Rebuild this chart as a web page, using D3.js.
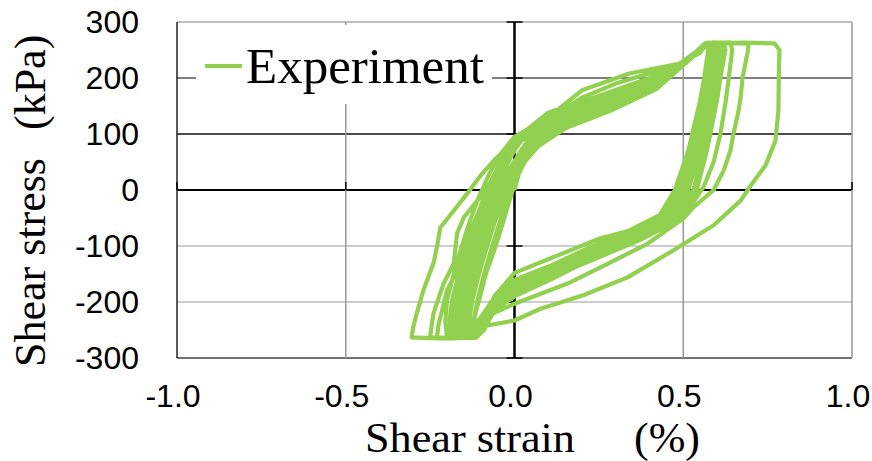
<!DOCTYPE html>
<html>
<head>
<meta charset="utf-8">
<script src="https://cdn.jsdelivr.net/npm/d3@7"></script>
<style>
    body { margin: 0; background: #fff; }
    svg { display: block; }
</style>
</head>
<body>
<svg id="chart" width="872" height="461"></svg>
<script>
// tick values for both axes
const xTicks = [-1.0, -0.5, 0.0, 0.5, 1.0];
const yTicks = [-300, -200, -100, 0, 100, 200, 300];

// hysteresis record, [shear strain %, shear stress kPa]
const cycle1 = [[0,0],[0.02,45],[0.05,85],[0.09,125],[0.2,178],[0.34,208],[0.49,226],[0.55,245],[0.57,262],
    [0.68,263],[0.77,262],[0.785,250],[0.783,200],[0.782,142],[0.773,88],[0.744,44],[0.70,8],[0.67,-19],
    [0.59,-63],[0.47,-108],[0.335,-156],[0.204,-188],[0.077,-212],[0,-233],[-0.11,-245],[-0.145,-263],
    [-0.22,-265],[-0.305,-263],[-0.3,-245],[-0.293,-228],[-0.27,-179],[-0.24,-131],[-0.228,-96],[-0.22,-67],
    [-0.18,-37],[-0.145,-10],[-0.10,26],[-0.056,56],[-0.012,79],[0.047,106],[0.136,140],[0.2,165],[0.3,190],
    [0.42,212],[0.5,228],[0.555,250],[0.575,262]];
const cycle2 = [[0.69,262],[0.693,255],[0.69,244],[0.676,201],[0.67,165],[0.664,142],[0.649,101],[0.64,71],
    [0.62,35],[0.59,0],[0.53,-31],[0.50,-51],[0.394,-96],[0.255,-138],[0.157,-167],[0,-203],[-0.08,-225],
    [-0.12,-250],[-0.14,-263],[-0.2,-265],[-0.25,-263],[-0.245,-240],[-0.24,-220],[-0.21,-167],[-0.18,-131],
    [-0.17,-77],[-0.15,-49],[-0.11,-19],[-0.08,4],[-0.05,40],[-0.02,70],[0.03,100],[0.107,128],[0.255,160],
    [0.4,195],[0.49,224],[0.55,250],[0.575,262]];
const cycle3 = [[0.64,263],[0.645,250],[0.635,201],[0.625,155],[0.61,100],[0.59,50],[0.56,5],[0.52,-30],
    [0.46,-62],[0.37,-90],[0.25,-120],[0.11,-155],[0,-185],[-0.08,-215],[-0.12,-245],[-0.14,-263],[-0.18,-265],
    [-0.23,-263],[-0.225,-240],[-0.2,-179],[-0.18,-156],[-0.13,-72],[-0.1,-30],[-0.07,5],[-0.03,50],[0.02,88],
    [0.1,122],[0.25,158],[0.4,192],[0.49,222],[0.55,248],[0.57,262]];
const cycle4 = [[0.62,263],[0.625,250],[0.61,200],[0.6,160],[0.57,70],[0.54,0],[0.49,-45],[0.4,-80],[0.26,-110],
    [0.11,-150],[0,-178],[-0.08,-212],[-0.13,-250],[-0.16,-264],[-0.2,-263],[-0.205,-235],[-0.2,-197],
    [-0.18,-150],[-0.16,-108],[-0.135,-60],[-0.11,-19],[-0.08,22],[-0.05,58],[0,95],[0.1,130],[0.25,163],
    [0.4,196],[0.49,224],[0.54,246],[0.565,262]];
const cycle5 = [[0.61,263],[0.612,248],[0.6,200],[0.59,160],[0.56,70],[0.53,0],[0.48,-45],[0.39,-78],[0.26,-104],
    [0.11,-145],[0,-173],[-0.08,-210],[-0.125,-250],[-0.15,-264],[-0.19,-264],[-0.192,-232],[-0.185,-197],
    [-0.165,-150],[-0.145,-108],[-0.12,-62],[-0.095,-20],[-0.065,20],[-0.04,55],[0.01,92],[0.1,127],[0.25,160],
    [0.4,193],[0.49,223],[0.54,246],[0.565,262]];
const cycle6 = [[0.60,263],[0.603,250],[0.59,200],[0.58,160],[0.55,70],[0.515,0],[0.47,-45],[0.38,-76],[0.26,-100],
    [0.11,-142],[0,-170],[-0.075,-207],[-0.12,-250],[-0.145,-264],[-0.18,-264],[-0.182,-230],[-0.175,-197],
    [-0.155,-150],[-0.135,-108],[-0.11,-60],[-0.085,-19],[-0.058,20],[-0.03,54],[0.01,95],[0.1,138],[0.25,168],
    [0.4,198],[0.49,224],[0.54,246],[0.565,262]];
const cycle7 = [[0.595,263],[0.597,250],[0.585,200],[0.575,160],[0.54,70],[0.505,0],[0.46,-45],[0.37,-75],
    [0.255,-98],[0.107,-139],[0,-166],[-0.07,-205],[-0.115,-250],[-0.14,-264],[-0.17,-264],[-0.172,-230],
    [-0.165,-197],[-0.145,-150],[-0.125,-108],[-0.1,-60],[-0.075,-19],[-0.05,20],[-0.022,53],[0.02,88],
    [0.107,122],[0.255,155],[0.4,190],[0.49,222],[0.54,245],[0.565,262]];
const cycle8 = [[0.59,263],[0.592,250],[0.58,200],[0.57,160],[0.535,70],[0.5,0],[0.45,-45],[0.365,-73],
    [0.255,-96],[0.107,-136],[0,-162],[-0.065,-202],[-0.11,-250],[-0.135,-264],[-0.16,-264],[-0.162,-228],
    [-0.155,-197],[-0.135,-150],[-0.115,-108],[-0.09,-60],[-0.065,-19],[-0.04,20],[-0.012,58],[0.03,100],
    [0.11,140],[0.26,170],[0.4,200],[0.49,225],[0.54,246],[0.565,262]];
const cycle9 = [[0.585,263],[0.587,250],[0.575,200],[0.565,160],[0.53,70],[0.495,0],[0.445,-45],[0.36,-78],
    [0.255,-115],[0.107,-160],[0,-190],[-0.06,-215],[-0.105,-250],[-0.13,-264],[-0.15,-264],[-0.152,-228],
    [-0.145,-197],[-0.125,-150],[-0.105,-108],[-0.08,-60],[-0.055,-19],[-0.03,20],[-0.002,50],[0.04,84],
    [0.12,117],[0.26,150],[0.4,185],[0.49,220],[0.54,245],[0.565,262]];
const cycle10 = [[0.58,263],[0.582,250],[0.57,200],[0.56,160],[0.525,70],[0.488,0],[0.44,-45],[0.355,-75],
    [0.255,-105],[0.107,-150],[0,-185],[-0.055,-212],[-0.1,-250],[-0.125,-264],[-0.14,-264],[-0.142,-226],
    [-0.135,-197],[-0.115,-150],[-0.095,-108],[-0.07,-60],[-0.045,-19],[-0.02,20],[0.008,50],[0.05,82],
    [0.13,115],[0.27,148],[0.41,184],[0.49,219],[0.54,245],[0.565,262]];
const cycle11 = [[0.575,263],[0.577,250],[0.565,200],[0.555,160],[0.52,70],[0.482,0],[0.435,-45],[0.35,-75],
    [0.255,-110],[0.107,-155],[0,-188],[-0.05,-208],[-0.095,-250],[-0.12,-264],[-0.13,-264],[-0.132,-225],
    [-0.125,-197],[-0.105,-150],[-0.085,-108],[-0.06,-60],[-0.035,-19],[-0.01,20],[0.018,50],[0.06,80],
    [0.14,113],[0.28,146],[0.41,182],[0.49,218],[0.54,245],[0.565,262]];
const cycle12 = [[0.572,263],[0.574,250],[0.562,200],[0.55,160],[0.515,70],[0.475,0],[0.43,-45],[0.34,-72],
    [0.25,-95],[0.107,-135],[0,-162],[-0.05,-200],[-0.09,-250],[-0.115,-264],[-0.12,-264],[-0.118,-225],
    [-0.105,-197],[-0.085,-150],[-0.06,-108],[-0.035,-60],[-0.015,-19],[0.005,20],[0.03,50],[0.07,78],
    [0.15,110],[0.29,143],[0.42,180],[0.49,217],[0.54,244],[0.565,262]];
const cycle13 = [[0.585,263],[0.587,250],[0.575,200],[0.56,160],[0.525,70],[0.49,0],[0.45,-40],[0.37,-68],
    [0.255,-86],[0.107,-122],[0,-148],[-0.06,-190],[-0.1,-250],[-0.13,-264],[-0.125,-264],[-0.12,-230],
    [-0.11,-197],[-0.09,-150],[-0.07,-108],[-0.045,-60],[-0.025,-19],[-0.005,20],[0.02,55],[0.06,85],
    [0.15,118],[0.3,152],[0.42,188],[0.49,220],[0.54,246],[0.565,262]];
const cycle14 = [[0.60,263],[0.602,250],[0.59,200],[0.578,160],[0.545,70],[0.51,0],[0.46,-50],[0.37,-85],
    [0.255,-112],[0.107,-152],[0,-182],[-0.07,-215],[-0.115,-252],[-0.14,-264],[-0.165,-264],[-0.168,-230],
    [-0.16,-197],[-0.14,-150],[-0.115,-108],[-0.09,-60],[-0.065,-19],[-0.04,25],[-0.015,60],[0.03,97],
    [0.12,132],[0.26,166],[0.4,200],[0.49,226],[0.54,248],[0.565,262]];
const cycle15 = [[0.61,263],[0.615,250],[0.605,200],[0.595,160],[0.565,70],[0.53,0],[0.485,-40],[0.4,-72],
    [0.27,-96],[0.12,-132],[0,-160],[-0.07,-200],[-0.12,-250],[-0.15,-264],[-0.175,-264],[-0.175,-230],
    [-0.165,-197],[-0.145,-150],[-0.12,-108],[-0.09,-62],[-0.06,-22],[-0.03,15],[0,50],[0.04,85],
    [0.12,118],[0.27,150],[0.41,186],[0.49,220],[0.54,246],[0.565,262]];
const cycle16 = [[0.58,263],[0.582,250],[0.57,200],[0.56,160],[0.52,70],[0.478,0],[0.43,-50],[0.34,-82],
    [0.25,-106],[0.107,-146],[0,-175],[-0.06,-210],[-0.1,-250],[-0.12,-264],[-0.14,-264],[-0.14,-226],
    [-0.13,-197],[-0.11,-150],[-0.09,-108],[-0.065,-60],[-0.04,-19],[-0.015,25],[0.01,62],[0.05,98],
    [0.14,130],[0.28,162],[0.41,196],[0.49,224],[0.54,247],[0.565,262],[0.575,263]];

const cycles = [cycle1, cycle2, cycle3, cycle4, cycle5, cycle6, cycle7, cycle8,
    cycle9, cycle10, cycle11, cycle12, cycle13, cycle14, cycle15, cycle16];

const green = '#92D050';

let svg = d3.select('#chart');

// plot area
let plotLeft = 177, plotRight = 852, plotTop = 22, plotBottom = 358;

let xScale = d3.scaleLinear().domain([-1, 1]).range([plotLeft, plotRight]);
let yScale = d3.scaleLinear().domain([-300, 300]).range([plotBottom, plotTop]);

// gridline colours, Excel style: darker near the top, light below zero
let hColor = {'-300': '#444', '-200': '#bbb', '-100': '#bbb', '0': '#000', '100': '#111', '200': '#555', '300': '#aaa'};
let vColor = {'-1': '#222', '-0.5': '#999', '0': '#000', '0.5': '#999', '1': '#999'};

let grid = svg.append('g').attr('class', 'grid');

grid.selectAll('line.h')
    .data(yTicks)
    .enter()
    .append('line')
    .attr('class', 'h')
    .attr('x1', plotLeft).attr('x2', plotRight)
    .attr('y1', d => yScale(d)).attr('y2', d => yScale(d))
    .attr('stroke', d => hColor[d])
    .attr('stroke-width', d => d === 0 ? 2 : 1.5);

grid.selectAll('line.v')
    .data(xTicks)
    .enter()
    .append('line')
    .attr('class', 'v')
    .attr('y1', plotTop).attr('y2', plotBottom)
    .attr('x1', d => xScale(d)).attr('x2', d => xScale(d))
    .attr('stroke', d => vColor[d])
    .attr('stroke-width', d => d === 0 ? 2.5 : 1.5);

// little cross ticks on the zero axes
grid.selectAll('line.yt')
    .data(yTicks)
    .enter()
    .append('line')
    .attr('class', 'yt')
    .attr('x1', xScale(0) - 8).attr('x2', xScale(0) + 8)
    .attr('y1', d => yScale(d)).attr('y2', d => yScale(d))
    .attr('stroke', '#000')
    .attr('stroke-width', 1.5);

grid.selectAll('line.xt')
    .data(xTicks)
    .enter()
    .append('line')
    .attr('class', 'xt')
    .attr('y1', yScale(0) - 8).attr('y2', yScale(0))
    .attr('x1', d => xScale(d)).attr('x2', d => xScale(d))
    .attr('stroke', '#000')
    .attr('stroke-width', 1.5);

// legend box sits over the grid
svg.append('rect')
    .attr('x', 196).attr('y', 25)
    .attr('width', 296).attr('height', 79)
    .attr('fill', '#fff');

// the loops
let lineFun = d3.line()
    .x(d => xScale(d[0]))
    .y(d => yScale(d[1]));

svg.append('path')
    .attr('d', lineFun(cycles.flat()))
    .attr('fill', 'none')
    .attr('stroke', green)
    .attr('stroke-width', 4.2)
    .attr('stroke-linejoin', 'round');

// legend
svg.append('line')
    .attr('x1', 205).attr('x2', 242)
    .attr('y1', 66).attr('y2', 66)
    .attr('stroke', green)
    .attr('stroke-width', 4);

svg.append('text')
    .attr('x', 246).attr('y', 83)
    .attr('font-family', '"Liberation Serif", "Times New Roman", serif')
    .attr('font-size', '51px')
    .attr('fill', '#000')
    .text('Experiment');

// tick labels
svg.selectAll('text.ylab')
    .data(yTicks)
    .enter()
    .append('text')
    .attr('class', 'ylab')
    .attr('x', 139)
    .attr('y', d => yScale(d) + 11)
    .attr('text-anchor', 'end')
    .attr('font-family', '"Liberation Sans", Arial, sans-serif')
    .attr('font-size', '32px')
    .text(d => d);

// plain hyphen for the minus, as in the original
svg.selectAll('text.xlab')
    .data(xTicks)
    .enter()
    .append('text')
    .attr('class', 'xlab')
    .attr('x', d => xScale(d) - 4)
    .attr('y', 407)
    .attr('text-anchor', 'middle')
    .attr('font-family', '"Liberation Sans", Arial, sans-serif')
    .attr('font-size', '32px')
    .text(d => d.toFixed(1));

// axis titles
let serif = '"Liberation Serif", "Times New Roman", serif';

svg.append('text')
    .attr('x', 365).attr('y', 452)
    .attr('font-family', serif).attr('font-size', '42px')
    .attr('textLength', 210).attr('lengthAdjust', 'spacingAndGlyphs')
    .text('Shear strain');
svg.append('text')
    .attr('x', 634).attr('y', 452)
    .attr('font-family', serif).attr('font-size', '42px')
    .attr('textLength', 66).attr('lengthAdjust', 'spacingAndGlyphs')
    .text('(%)');

svg.append('text')
    .attr('transform', 'translate(45,367) rotate(-90)')
    .attr('font-family', serif).attr('font-size', '44px')
    .text('Shear stress');
svg.append('text')
    .attr('transform', 'translate(45,130) rotate(-90)')
    .attr('font-family', serif).attr('font-size', '44px')
    .text('(kPa)');
</script>
</body>
</html>
